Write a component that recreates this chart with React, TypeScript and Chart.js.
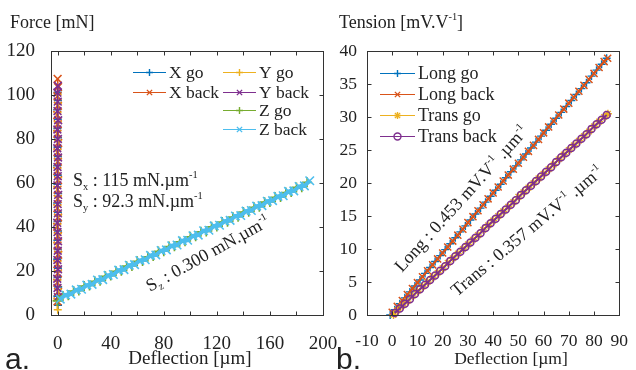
import React, { useEffect, useRef } from "react";
import { Chart, registerables } from "chart.js";

Chart.register(...registerables);

const SERIF = '"Liberation Serif", "Times New Roman", Times, serif';
const SANS = '"Liberation Sans", Arial, sans-serif';
const INK = "#222222";
const COLORS = ["#0072BD", "#D95319", "#EDB120", "#7E2F8E", "#77AC30", "#4DBEEE"];

// ---------------- Panel a : Force [mN] vs Deflection [µm] ----------------
const forceNames = ["X go", "X back", "Y go", "Y back", "Z go", "Z back"];

const xGoDefl = [0.3, -0.2, 0.4, -0.1, 0.2, -0.3, 0.1, -0.2, 0.3, -0.1, 0.2, -0.3, 0.4, -0.2, 0.1, -0.3, 0.2, -0.1, 0.3, -0.2, 0.1, -0.3, 0.2, 0.0];
const xGoForce = [4.5, 8.6, 12.8, 17.1, 21.3, 25.4, 29.8, 34.0, 38.2, 42.5, 46.7, 50.9, 55.2, 59.4, 63.6, 67.9, 72.1, 76.3, 80.6, 84.8, 89.0, 93.3, 97.5, 101.2];

const xBackDefl = [-0.1, 0.3, -0.3, 0.2, -0.2, 0.4, -0.1, 0.2, -0.3, 0.3, -0.2, 0.1, -0.1, 0.3, -0.3, 0.2, -0.1, 0.4, -0.2, 0.1, -0.3, 0.2, -0.1, 0.3, 0.0];
const xBackForce = [6.2, 10.5, 14.7, 18.9, 23.2, 27.4, 31.6, 35.9, 40.1, 44.3, 48.6, 52.8, 57.0, 61.3, 65.5, 69.7, 74.0, 78.2, 82.4, 86.7, 90.9, 95.1, 99.4, 103.6, 107.3];

const yGoDefl = [0.1, -0.3, 0.3, -0.2, 0.2, -0.1, 0.4, -0.3, 0.1, -0.2, 0.3, -0.1, 0.2, -0.3, 0.4, -0.1, 0.1, -0.2, 0.3, -0.3, 0.2, -0.1, 0.3, 0.1];
const yGoForce = [2.4, 7.3, 11.6, 15.8, 20.0, 24.3, 28.5, 32.7, 37.0, 41.2, 45.4, 49.7, 53.9, 58.1, 62.4, 66.6, 70.8, 75.1, 79.3, 83.5, 87.8, 92.0, 96.2, 100.1];

const yBackDefl = [0.2, -0.1, -0.3, 0.3, -0.2, 0.1, 0.3, -0.1, -0.3, 0.2, 0.0, 0.4, -0.2, 0.1, -0.1, 0.3, -0.3, 0.2, -0.2, 0.4, -0.1, 0.1, -0.2, 0.2];
const yBackForce = [8.1, 12.3, 16.5, 20.8, 25.0, 29.2, 33.5, 37.7, 41.9, 46.2, 50.4, 54.6, 58.9, 63.1, 67.3, 71.6, 75.8, 80.0, 84.3, 88.5, 92.7, 97.0, 101.0, 104.2];

const zGoDefl = [0, 4, 8, 12, 16, 20, 24, 28, 32, 36, 40, 44, 48, 52, 56, 60, 64, 68, 72, 76, 80, 84, 88, 92, 96, 100, 104, 108, 112, 116, 120, 124, 128, 132, 136, 140, 144, 148, 152, 156, 160, 164, 168, 172, 176, 180, 184, 188];
const zGoForce = [6.4, 8.6, 9.0, 10.9, 11.1, 13.2, 13.4, 15.3, 15.6, 17.6, 17.9, 19.9, 20.1, 22.2, 22.3, 24.4, 24.6, 26.5, 26.8, 28.9, 29.0, 31.1, 31.2, 33.3, 33.5, 35.6, 35.8, 37.8, 38.0, 40.1, 40.2, 42.3, 42.4, 44.5, 44.7, 46.8, 46.9, 49.0, 49.2, 51.3, 51.4, 53.5, 53.6, 55.7, 55.9, 58.0, 58.1, 60.3];

const zBackDefl = [2, 6, 10, 14, 18, 22, 26, 30, 34, 38, 42, 46, 50, 54, 58, 62, 66, 70, 74, 78, 82, 86, 90, 94, 98, 102, 106, 110, 114, 118, 122, 126, 130, 134, 138, 142, 146, 150, 154, 158, 162, 166, 170, 174, 178, 182, 186, 190];
const zBackForce = [7.2, 9.1, 9.5, 11.4, 11.7, 13.6, 13.9, 15.9, 16.1, 18.0, 18.4, 20.4, 20.6, 22.6, 22.9, 24.8, 25.1, 27.1, 27.3, 29.3, 29.6, 31.5, 31.8, 33.8, 34.0, 36.0, 36.3, 38.3, 38.5, 40.5, 40.8, 42.7, 43.0, 45.0, 45.2, 47.2, 47.5, 49.5, 49.7, 51.7, 52.0, 53.9, 54.2, 56.2, 56.4, 58.4, 58.7, 61.0];

const forceXMinorTicks = [0, 20, 40, 60, 80, 100, 120, 140, 160, 180, 200];
const forceYMinorTicks = [0, 20, 40, 60, 80, 100, 120];

// ---------------- Panel b : Tension [mV.V-1] vs Deflection [µm] ----------------
const tensionNames = ["Long go", "Long back", "Trans go", "Trans back"];

const longGoDefl = [-0.8, 1, 3, 5, 7, 9, 11, 13, 15, 17, 19, 21, 23, 25, 27, 29, 31, 33, 35, 37, 39, 41, 43, 45, 47, 49, 51, 53, 55, 57, 59, 61, 63, 65, 67, 69, 71, 73, 75, 77, 79, 81, 83, 85];
const longGoTension = [0.0, 0.8, 1.7, 2.6, 3.5, 4.4, 5.3, 6.3, 7.2, 8.1, 9.0, 9.9, 10.8, 11.7, 12.6, 13.5, 14.4, 15.3, 16.2, 17.1, 18.0, 18.9, 19.8, 20.8, 21.7, 22.6, 23.5, 24.4, 25.3, 26.2, 27.1, 28.0, 28.9, 29.8, 30.7, 31.6, 32.5, 33.4, 34.3, 35.2, 36.2, 37.1, 38.0, 38.9];

const longBackDefl = [0, 2, 4, 6, 8, 10, 12, 14, 16, 18, 20, 22, 24, 26, 28, 30, 32, 34, 36, 38, 40, 42, 44, 46, 48, 50, 52, 54, 56, 58, 60, 62, 64, 66, 68, 70, 72, 74, 76, 78, 80, 82, 84, 85.4];
const longBackTension = [0.4, 1.3, 2.2, 3.1, 4.0, 4.9, 5.8, 6.7, 7.6, 8.5, 9.4, 10.3, 11.2, 12.1, 13.0, 14.0, 14.9, 15.8, 16.7, 17.6, 18.5, 19.4, 20.3, 21.2, 22.1, 23.0, 23.9, 24.8, 25.7, 26.6, 27.6, 28.5, 29.4, 30.3, 31.2, 32.1, 33.0, 33.9, 34.8, 35.7, 36.6, 37.5, 38.4, 38.9];

const transGoDefl = [0.5, 2, 4, 6, 8, 10, 12, 14, 16, 18, 20, 22, 24, 26, 28, 30, 32, 34, 36, 38, 40, 42, 44, 46, 48, 50, 52, 54, 56, 58, 60, 62, 64, 66, 68, 70, 72, 74, 76, 78, 80, 82, 84, 85.5];
const transGoTension = [0.0, 0.7, 1.4, 2.1, 2.9, 3.6, 4.3, 5.0, 5.7, 6.4, 7.1, 7.9, 8.6, 9.3, 10.0, 10.7, 11.4, 12.1, 12.9, 13.6, 14.3, 15.0, 15.7, 16.4, 17.1, 17.9, 18.6, 19.3, 20.0, 20.7, 21.4, 22.1, 22.8, 23.6, 24.3, 25.0, 25.7, 26.4, 27.1, 27.8, 28.6, 29.3, 30.0, 30.5];

const transBackDefl = [1, 3, 5, 7, 9, 11, 13, 15, 17, 19, 21, 23, 25, 27, 29, 31, 33, 35, 37, 39, 41, 43, 45, 47, 49, 51, 53, 55, 57, 59, 61, 63, 65, 67, 69, 71, 73, 75, 77, 79, 81, 83, 85];
const transBackTension = [0.3, 1.0, 1.7, 2.4, 3.2, 3.9, 4.6, 5.3, 6.0, 6.7, 7.4, 8.2, 8.9, 9.6, 10.3, 11.0, 11.7, 12.4, 13.2, 13.9, 14.6, 15.3, 16.0, 16.7, 17.4, 18.2, 18.9, 19.6, 20.3, 21.0, 21.7, 22.4, 23.2, 23.9, 24.6, 25.3, 26.0, 26.7, 27.4, 28.2, 28.9, 29.6, 30.3];

const tensionXMinorTicks = [-10, 0, 10, 20, 30, 40, 50, 60, 70, 80, 90];
const tensionYMinorTicks = [0, 5, 10, 15, 20, 25, 30, 35, 40];

// ---------------- helpers ----------------
type Seg = { t: string; v?: "sup" | "sub" };

function drawRich(ctx: CanvasRenderingContext2D, segs: Seg[], x: number, y: number, size: number, family: string) {
  let cx = x;
  for (const s of segs) {
    const fs = s.v ? size * 0.58 : size;
    ctx.font = `${fs}px ${family}`;
    const dy = s.v === "sup" ? -size * 0.42 : s.v === "sub" ? size * 0.2 : 0;
    ctx.fillText(s.t, cx, y + dy);
    cx += ctx.measureText(s.t).width;
  }
  return cx - x;
}

function drawMarker(ctx: CanvasRenderingContext2D, kind: string, x: number, y: number, r: number) {
  ctx.beginPath();
  if (kind === "plus" || kind === "star") {
    ctx.moveTo(x - r, y); ctx.lineTo(x + r, y);
    ctx.moveTo(x, y - r); ctx.lineTo(x, y + r);
  }
  if (kind === "x" || kind === "star") {
    const d = r * 0.75;
    ctx.moveTo(x - d, y - d); ctx.lineTo(x + d, y + d);
    ctx.moveTo(x - d, y + d); ctx.lineTo(x + d, y - d);
  }
  if (kind === "circle") {
    ctx.arc(x, y, r, 0, Math.PI * 2);
  }
  ctx.stroke();
}

type LegendItem = { label: string; color: string; marker: string; x1: number; x2: number; y: number; tx: number };
type Note = { segs: Seg[]; x: number; y: number; angle: number; size: number; family: string; align?: "center" };

function makeDecor(xMinor: number[], yMinor: number[], legend: LegendItem[], legendSize: number, notes: Note[]) {
  return {
    id: "decor",
    afterDatasetsDraw(chart: any) {
      const { ctx, chartArea } = chart;
      const xs = chart.scales.x;
      const ys = chart.scales.y;
      const l = Math.round(chartArea.left) + 0.5;
      const r = Math.round(chartArea.right) + 0.5;
      const t = Math.round(chartArea.top) + 0.5;
      const b = Math.round(chartArea.bottom) + 0.5;
      ctx.save();
      ctx.strokeStyle = "#333333";
      ctx.lineWidth = 1;
      ctx.strokeRect(l, t, r - l, b - t);
      ctx.beginPath();
      for (const v of xMinor) {
        const px = Math.round(xs.getPixelForValue(v)) + 0.5;
        ctx.moveTo(px, b); ctx.lineTo(px, b - 4);
        ctx.moveTo(px, t); ctx.lineTo(px, t + 4);
      }
      for (const v of yMinor) {
        const py = Math.round(ys.getPixelForValue(v)) + 0.5;
        ctx.moveTo(l, py); ctx.lineTo(l + 4, py);
        ctx.moveTo(r, py); ctx.lineTo(r - 4, py);
      }
      ctx.stroke();
      ctx.restore();
    },
    afterDraw(chart: any) {
      const { ctx } = chart;
      ctx.save();
      for (const it of legend) {
        ctx.strokeStyle = it.color;
        ctx.lineWidth = 1.2;
        ctx.beginPath();
        ctx.moveTo(it.x1, it.y + 0.5); ctx.lineTo(it.x2, it.y + 0.5);
        ctx.stroke();
        ctx.lineWidth = 1.4;
        drawMarker(ctx, it.marker, (it.x1 + it.x2) / 2, it.y + 0.5, 3.5);
        ctx.fillStyle = INK;
        ctx.textBaseline = "middle";
        ctx.textAlign = "left";
        ctx.font = `${legendSize}px ${SERIF}`;
        ctx.fillText(it.label, it.tx, it.y + 1);
      }
      ctx.textBaseline = "alphabetic";
      ctx.textAlign = "left";
      for (const n of notes) {
        ctx.save();
        ctx.fillStyle = INK;
        ctx.translate(n.x, n.y);
        ctx.rotate((n.angle * Math.PI) / 180);
        let ox = 0;
        if (n.align === "center") {
          let w = 0;
          for (const s of n.segs) {
            ctx.font = `${s.v ? n.size * 0.58 : n.size}px ${n.family}`;
            w += ctx.measureText(s.t).width;
          }
          ox = -w / 2;
        }
        drawRich(ctx, n.segs, ox, 0, n.size, n.family);
        ctx.restore();
      }
      ctx.restore();
    },
  };
}

function series(label: string, xs: number[], ys: number[], color: string, style: string, radius: number, lineW: number, markW: number, order: number, bg?: string) {
  return {
    label,
    data: xs.map((x, i) => ({ x, y: ys[i] })),
    showLine: true,
    borderColor: color,
    backgroundColor: bg ?? color,
    borderWidth: lineW,
    pointStyle: style,
    pointRadius: radius,
    pointBorderWidth: markW,
    pointBorderColor: color,
    pointBackgroundColor: bg ?? color,
    order,
    clip: 8,
  };
}

function axisOptions(min: number, max: number, step: number, size: number, padding: number, fixed: (s: any) => void) {
  return {
    type: "linear" as const,
    min,
    max,
    grid: { display: false },
    border: { display: false },
    ticks: {
      stepSize: step,
      includeBounds: false,
      autoSkip: false,
      maxRotation: 0,
      padding,
      color: INK,
      font: { family: SERIF, size },
    },
    afterFit: fixed,
  };
}

export default function App() {
  const refA = useRef<HTMLCanvasElement>(null);
  const refB = useRef<HTMLCanvasElement>(null);

  useEffect(() => {
    const legendA: LegendItem[] = [
      { label: forceNames[0], color: COLORS[0], marker: "plus", x1: 133, x2: 166, y: 72, tx: 169 },
      { label: forceNames[1], color: COLORS[1], marker: "x", x1: 133, x2: 166, y: 92, tx: 169 },
      { label: forceNames[2], color: COLORS[2], marker: "plus", x1: 223, x2: 256, y: 72, tx: 259 },
      { label: forceNames[3], color: COLORS[3], marker: "x", x1: 223, x2: 256, y: 92, tx: 259 },
      { label: forceNames[4], color: COLORS[4], marker: "plus", x1: 223, x2: 256, y: 110, tx: 259 },
      { label: forceNames[5], color: COLORS[5], marker: "x", x1: 223, x2: 256, y: 129, tx: 259 },
    ];
    const notesA: Note[] = [
      { segs: [{ t: "Force [mN]" }], x: 10, y: 28, angle: 0, size: 18, family: SERIF },
      { segs: [{ t: "Deflection [µm]" }], x: 190, y: 364, angle: 0, size: 19, family: SERIF, align: "center" },
      { segs: [{ t: "a." }], x: 5, y: 369, angle: 0, size: 30, family: SANS },
      { segs: [{ t: "S" }, { t: "x", v: "sub" }, { t: " : 115 mN.µm" }, { t: "-1", v: "sup" }], x: 73, y: 186, angle: 0, size: 18, family: SERIF },
      { segs: [{ t: "S" }, { t: "y", v: "sub" }, { t: " : 92.3 mN.µm" }, { t: "-1", v: "sup" }], x: 73, y: 207, angle: 0, size: 18, family: SERIF },
      { segs: [{ t: "S" }, { t: "z", v: "sub" }, { t: " : 0.300 mN.µm" }, { t: "-1", v: "sup" }], x: 150, y: 292, angle: -29, size: 18, family: SERIF },
    ];
    const legendB: LegendItem[] = [
      { label: tensionNames[0], color: COLORS[0], marker: "plus", x1: 380, x2: 415, y: 73, tx: 418 },
      { label: tensionNames[1], color: COLORS[1], marker: "x", x1: 380, x2: 415, y: 94, tx: 418 },
      { label: tensionNames[2], color: COLORS[2], marker: "star", x1: 380, x2: 415, y: 115, tx: 418 },
      { label: tensionNames[3], color: COLORS[3], marker: "circle", x1: 380, x2: 415, y: 136, tx: 418 },
    ];
    const notesB: Note[] = [
      { segs: [{ t: "Tension [mV.V" }, { t: "-1", v: "sup" }, { t: "]" }], x: 339, y: 28, angle: 0, size: 18, family: SERIF },
      { segs: [{ t: "Deflection [µm]" }], x: 511, y: 364, angle: 0, size: 17.5, family: SERIF, align: "center" },
      { segs: [{ t: "b." }], x: 336, y: 369, angle: 0, size: 30, family: SANS },
      { segs: [{ t: "Long : 0.453 mV.V" }, { t: "-1", v: "sup" }, { t: " .µm" }, { t: "-1", v: "sup" }], x: 402, y: 273, angle: -48, size: 18, family: SERIF },
      { segs: [{ t: "Trans : 0.357 mV.V" }, { t: "-1", v: "sup" }, { t: " .µm" }, { t: "-1", v: "sup" }], x: 457, y: 297, angle: -40, size: 18, family: SERIF },
    ];

    const chartA = new Chart(refA.current!, {
      type: "scatter",
      data: {
        datasets: [
          series(forceNames[0], xGoDefl, xGoForce, COLORS[0], "cross", 4, 1.5, 1.6, 6),
          series(forceNames[1], xBackDefl, xBackForce, COLORS[1], "crossRot", 5.5, 1.5, 1.6, 5),
          series(forceNames[2], yGoDefl, yGoForce, COLORS[2], "cross", 4, 1.5, 1.6, 4),
          series(forceNames[3], yBackDefl, yBackForce, COLORS[3], "crossRot", 5.5, 1.5, 1.6, 3),
          series(forceNames[4], zGoDefl, zGoForce, COLORS[4], "cross", 5, 3, 1.6, 2),
          series(forceNames[5], zBackDefl, zBackForce, COLORS[5], "crossRot", 6, 4, 1.6, 1),
        ] as any,
      },
      options: {
        responsive: false,
        animation: false,
        devicePixelRatio: 1,
        events: [],
        layout: { padding: { left: 0, right: 636 - 323, top: 51, bottom: 0 } },
        plugins: { legend: { display: false }, tooltip: { enabled: false }, title: { display: false } },
        scales: {
          x: axisOptions(-5, 200, 40, 19, 10, (s: any) => { s.height = 370 - 315; }),
          y: axisOptions(0, 120, 20, 19, 8, (s: any) => { s.width = 51; }),
        },
      } as any,
      plugins: [makeDecor(forceXMinorTicks, forceYMinorTicks, legendA, 17.5, notesA)],
    });

    const chartB = new Chart(refB.current!, {
      type: "scatter",
      data: {
        datasets: [
          series(tensionNames[0], longGoDefl, longGoTension, COLORS[0], "cross", 4, 2, 1.4, 4),
          series(tensionNames[1], longBackDefl, longBackTension, COLORS[1], "crossRot", 5, 2, 1.5, 3),
          series(tensionNames[2], transGoDefl, transGoTension, COLORS[2], "star", 4, 2, 1.4, 2),
          series(tensionNames[3], transBackDefl, transBackTension, COLORS[3], "circle", 3.5, 2, 1.5, 1, "rgba(0,0,0,0)"),
        ] as any,
      },
      options: {
        responsive: false,
        animation: false,
        devicePixelRatio: 1,
        events: [],
        layout: { padding: { left: 316, right: 636 - 627, top: 51, bottom: 0 } },
        plugins: { legend: { display: false }, tooltip: { enabled: false }, title: { display: false } },
        scales: {
          x: axisOptions(-10, 90, 10, 17.5, 8, (s: any) => { s.height = 370 - 315; }),
          y: axisOptions(0, 40, 5, 17.5, 2, (s: any) => { s.width = 51; }),
        },
      } as any,
      plugins: [makeDecor(tensionXMinorTicks, tensionYMinorTicks, legendB, 18, notesB)],
    });

    return () => {
      chartA.destroy();
      chartB.destroy();
    };
  }, []);

  const canvasStyle: React.CSSProperties = { position: "absolute", left: 0, top: 0, width: 636, height: 370 };
  return (
    <div style={{ position: "fixed", left: 0, top: 0, width: 636, height: 370, background: "#ffffff" }}>
      <canvas ref={refA} width={636} height={370} style={canvasStyle} />
      <canvas ref={refB} width={636} height={370} style={canvasStyle} />
    </div>
  );
}
